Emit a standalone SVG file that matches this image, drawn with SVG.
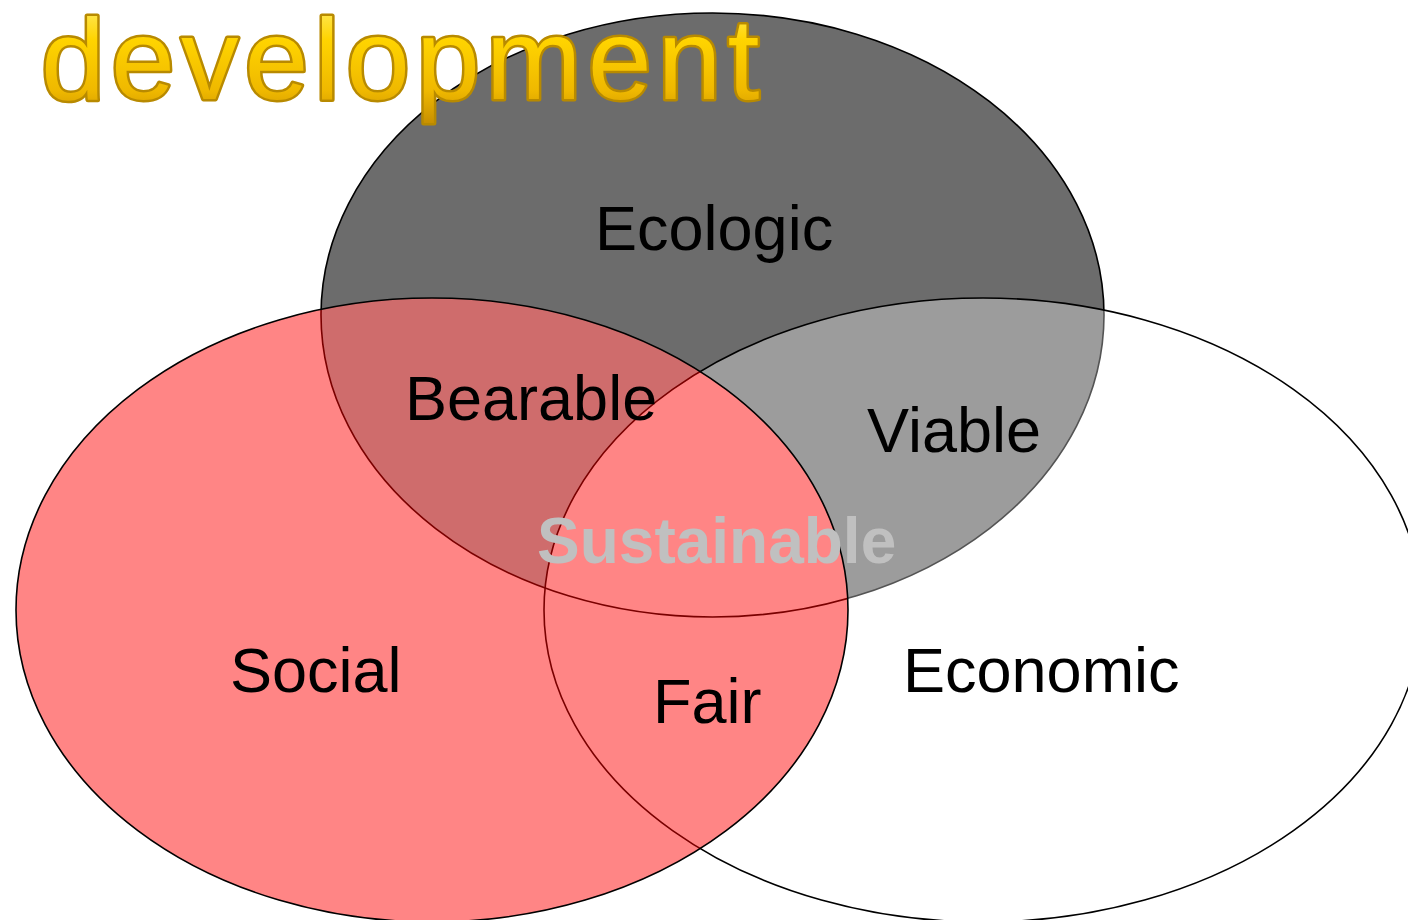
<svg xmlns="http://www.w3.org/2000/svg" width="1408" height="920" viewBox="0 0 1408 920">
<style>
.lbl{font-family:"Liberation Sans",Arial,sans-serif;font-size:63px;fill:#000}
.out{fill:none;stroke:#000;stroke-width:1.6}
.inner{fill:none;stroke:#7a0000;stroke-width:1.6}
.title{font-family:"Liberation Sans",Arial,sans-serif;font-size:115px;letter-spacing:6px;fill:url(#gold);stroke:#b88a00;stroke-width:5;stroke-linejoin:round;paint-order:stroke}
.sus{font-family:"Liberation Sans",Arial,sans-serif;font-weight:bold;font-size:64px;fill:#c0c0c0}
</style>
<defs>
<clipPath id="cs"><ellipse cx="432" cy="610" rx="416" ry="312"/></clipPath>
<linearGradient id="gold" x1="0" y1="0" x2="0" y2="1">
<stop offset="0" stop-color="#fff07a"/>
<stop offset="0.35" stop-color="#ffd400"/>
<stop offset="0.75" stop-color="#efb800"/>
<stop offset="1" stop-color="#c89000"/>
</linearGradient>
</defs>
<rect width="1408" height="920" fill="#fff"/>
<g id="ecologic">
<ellipse cx="712.5" cy="315" rx="391.5" ry="302" class="out" style="fill:#6c6c6c"/>
<text class="lbl" x="595" y="250">Ecologic</text>
</g>
<g id="economic">
<ellipse cx="983" cy="610" rx="439" ry="312" class="out" style="fill:#fff;fill-opacity:0.33"/>
</g>
<g id="social">
<ellipse cx="432" cy="610" rx="416" ry="312" fill="#ff8585"/>
<g clip-path="url(#cs)">
<ellipse cx="712.5" cy="315" rx="391.5" ry="302" fill="#000" fill-opacity="0.19"/>
<ellipse cx="983" cy="610" rx="439" ry="312" fill="#ff8585"/>
<ellipse cx="712.5" cy="315" rx="391.5" ry="302" class="inner"/>
<ellipse cx="983" cy="610" rx="439" ry="312" class="inner"/>
</g>
<ellipse cx="432" cy="610" rx="416" ry="312" class="out"/>
</g>
<g id="labels">
<text class="lbl" x="405" y="420">Bearable</text>
<text class="lbl" x="867" y="452">Viable</text>
<text class="lbl" x="230" y="692">Social</text>
<text class="lbl" x="903" y="692">Economic</text>
<text class="lbl" x="653" y="723">Fair</text>
<text class="sus" x="537" y="563">Sustainable</text>
</g>
<g id="title">
<text class="title" x="41" y="99">development</text>
</g>
</svg>
